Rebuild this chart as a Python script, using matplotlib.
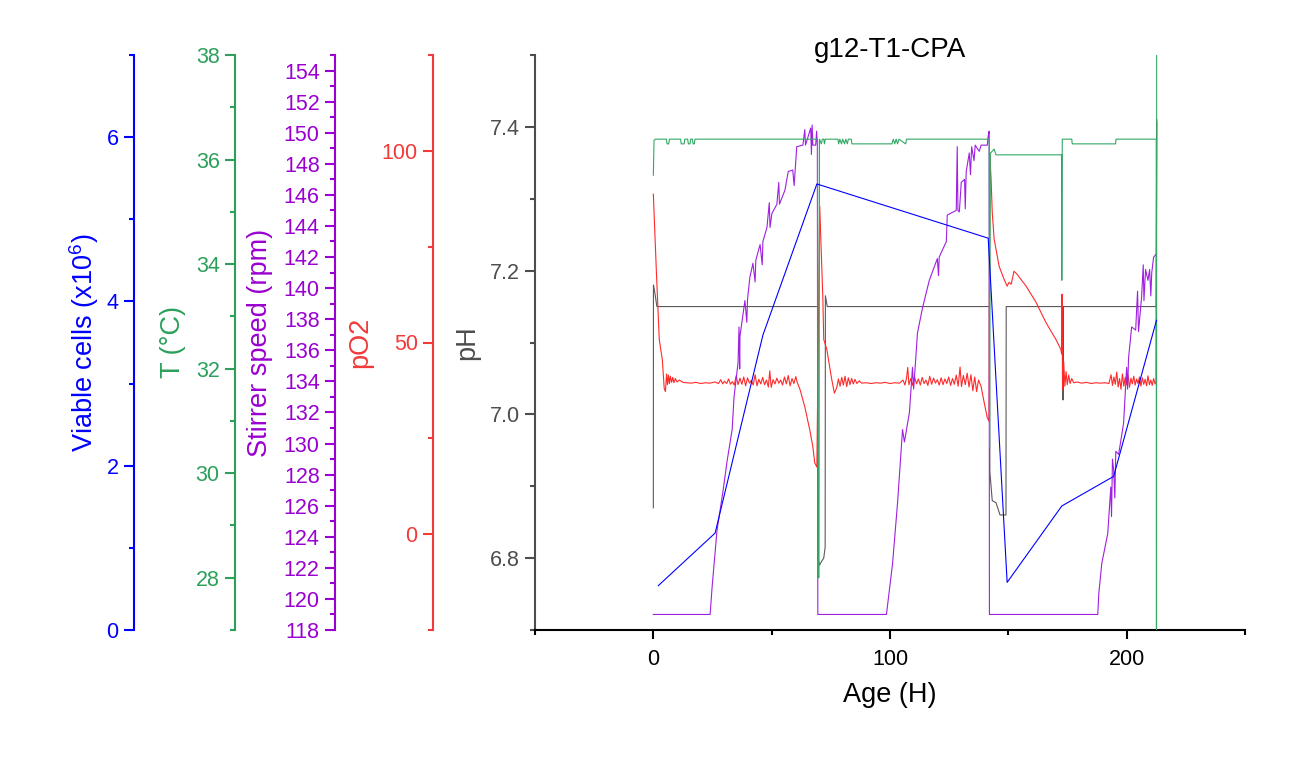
import matplotlib
matplotlib.use('Agg')
import matplotlib.pyplot as plt
from matplotlib.ticker import MultipleLocator

plt.rcParams['font.family'] = ['Liberation Sans', 'DejaVu Sans']
plt.rcParams['mathtext.fontset'] = 'custom'
plt.rcParams['mathtext.rm'] = 'Liberation Sans'
plt.rcParams['mathtext.it'] = 'Liberation Sans:italic'

# --- data (Age in hours) ---
ph_t = [0.0, 0.05, 0.6, 1.5, 69.4, 69.6, 70.2, 71.0, 72.0, 72.6, 72.7, 73.5,
        142.0, 142.2, 143.2, 144.8, 146.5, 149.0, 149.1, 172.9, 173.1, 173.3,
        212.5, 212.7]
ph_v = [6.87, 7.18, 7.17, 7.15, 7.15, 6.80, 6.79, 6.795, 6.80, 6.815, 7.165, 7.15,
        7.15, 6.92, 6.88, 6.877, 6.86, 6.86, 7.15, 7.15, 7.02, 7.15,
        7.15, 7.41]

o2_t = [0.0, 1.3, 2.5, 3.8, 4.6, 5.1, 5.6, 6.0, 6.4, 6.8, 7.2, 7.7, 8.2, 8.7, 9.3,
        10.0, 11.0, 12.5, 14.0, 16.0, 18.0, 20.0, 22.0, 24.0, 26.0, 27.5, 28.5,
        29.3, 30.0, 31.0, 31.8, 32.6, 33.4, 34.2, 35.0, 35.8, 36.6, 37.4, 38.2,
        39.0, 39.8, 40.6, 41.4, 42.2, 43.0, 43.8, 44.6, 45.4, 46.2, 47.0, 47.8,
        48.6, 49.2, 49.8, 50.6, 51.4, 52.2, 53.0, 53.8, 54.6, 55.4, 56.2, 57.0,
        57.8, 58.6, 59.4, 60.2, 60.8, 62.0, 64.0, 66.1, 67.4, 68.2, 69.1, 70.3,
        71.6, 72.0, 73.3, 75.4, 76.5, 77.5, 78.2, 78.9, 79.6, 80.3, 81.0, 81.7,
        82.4, 83.1, 83.8, 84.5, 85.2, 86.0, 87.0, 88.0, 90.0, 92.0, 94.0, 96.0,
        98.0, 100.0, 102.0, 104.0, 105.5, 106.3, 107.0, 107.5, 108.0, 108.8,
        109.6, 110.4, 111.2, 112.0, 112.8, 113.6, 114.4, 115.2, 116.0, 116.8,
        117.6, 118.4, 119.2, 120.0, 120.8, 121.6, 122.4, 123.2, 124.0, 124.8,
        125.6, 126.4, 127.2, 128.0, 128.8, 129.6, 130.2, 131.0, 131.8, 132.6,
        133.4, 134.2, 135.0, 135.8, 136.6, 137.4, 138.5, 139.8, 141.1, 141.8,
        142.2, 142.7, 143.2, 144.0, 146.1, 148.2, 149.5, 150.3, 151.2, 152.4,
        153.7, 157.5, 161.7, 165.9, 170.1, 172.2, 172.5, 172.7, 172.9, 173.4,
        173.9, 174.4, 174.9, 175.5, 176.1, 176.8, 177.6, 179.0, 181.0, 183.0,
        185.0, 187.0, 189.0, 191.0, 192.5, 193.4, 194.0, 194.6, 195.2, 195.8,
        196.4, 197.0, 197.6, 198.2, 198.8, 199.4, 200.0, 200.6, 201.2, 201.8,
        202.4, 203.0, 203.6, 204.2, 204.8, 205.4, 206.0, 206.6, 207.2, 207.8,
        208.4, 209.0, 209.6, 210.2, 210.8, 211.4, 212.0, 212.4, 212.7]
o2_v = [88.7, 68.3, 50.8, 45.5, 38.0, 37.2, 41.8, 39.0, 41.5, 39.3, 41.2, 39.6,
        40.9, 39.5, 40.6, 39.7, 40.2, 39.6, 39.5, 39.4, 39.6, 39.3, 39.5, 39.4,
        39.7, 39.3, 40.3, 39.2, 39.9, 39.3, 40.5, 39.1, 39.8, 38.9, 41.3, 39.0,
        40.7, 39.1, 41.0, 38.7, 40.8, 39.4, 40.1, 38.9, 41.6, 38.7, 40.4, 39.2,
        40.9, 39.0, 40.2, 38.4, 42.6, 38.3, 40.3, 39.2, 40.7, 39.4, 40.2, 38.9,
        41.0, 39.2, 41.4, 38.7, 40.6, 39.3, 41.1, 39.6, 37.7, 33.2, 27.2, 22.8,
        18.6, 17.5, 85.6, 62.0, 50.8, 48.2, 40.3, 36.8, 38.2, 40.5, 38.6, 40.9,
        38.9, 41.2, 38.5, 40.8, 39.0, 40.6, 39.2, 40.4, 39.3, 40.0, 39.4, 39.5,
        39.3, 39.5, 39.4, 39.6, 39.3, 39.5, 39.4, 40.2, 38.9, 40.8, 43.5, 39.0,
        40.6, 38.8, 41.0, 39.2, 40.5, 38.9, 40.9, 39.3, 40.2, 38.8, 41.2, 39.1,
        40.7, 39.4, 40.3, 38.9, 40.8, 39.0, 40.5, 39.3, 41.0, 38.8, 40.6, 39.1,
        41.5, 38.6, 43.6, 38.5, 41.4, 39.0, 42.0, 38.4, 41.6, 37.4, 41.0, 37.2,
        40.2, 38.5, 34.3, 30.4, 29.5, 98.7, 92.7, 84.0, 77.0, 69.9, 66.5, 64.7,
        65.7, 65.2, 68.6, 67.8, 64.7, 60.5, 55.2, 50.8, 48.2, 47.0, 62.6, 37.7,
        45.0, 38.6, 42.4, 39.0, 41.5, 39.3, 40.6, 39.5, 39.7, 39.4, 39.6, 39.3,
        39.5, 39.4, 39.5, 39.3, 41.6, 38.8, 41.0, 39.1, 42.3, 38.4, 40.6, 37.8,
        41.8, 38.6, 40.9, 39.0, 41.5, 38.3, 40.7, 39.2, 41.2, 38.9, 40.5, 39.3,
        41.0, 38.6, 40.8, 39.1, 40.4, 38.7, 41.3, 39.0, 40.2, 38.8, 40.6, 39.2,
        39.8, 107.6]

rpm_t = [0.0, 24.0, 24.8, 25.7, 26.9, 29.5, 31.2, 33.3, 34.1, 35.8, 36.2, 36.5,
         36.6, 38.7, 39.5, 39.8, 40.8, 42.1, 43.0, 43.3, 45.1, 46.0, 46.3, 48.0,
         49.0, 49.3, 50.1, 52.2, 53.0, 53.3, 55.6, 57.0, 58.9, 59.5, 60.6, 63.2,
         64.0, 64.3, 66.5, 66.8, 67.1, 67.4, 68.6, 69.0, 69.3, 69.5,
         98.5, 101.1, 103.2, 105.3, 106.1, 108.2, 109.5, 110.0, 111.6, 113.7,
         116.6, 120.0, 120.5, 120.8, 123.8, 124.2, 128.0, 128.4, 128.7, 129.3,
         130.1, 131.5, 131.8, 132.2, 133.5, 134.0, 134.5, 135.5, 136.0, 137.7,
         138.5, 140.0, 141.1, 141.5, 141.9, 142.0,
         187.8, 188.2, 189.5, 192.0, 193.3, 193.6, 194.0, 194.5, 195.0, 195.4,
         196.6, 198.7, 200.0, 200.4, 200.8, 202.1, 203.8, 204.6, 205.0, 206.3,
         207.0, 207.3, 208.0, 209.0, 209.7, 210.2, 210.6, 211.4, 212.6]
rpm_v = [119.0, 119.0, 120.7, 122.3, 124.4, 127.0, 128.9, 130.9, 133.0, 135.2, 137.5, 134.8,
         136.9, 139.2, 137.8, 139.3, 140.7, 141.6, 140.4, 141.8, 142.8, 141.5, 143.0, 143.9,
         145.5, 143.9, 144.8, 145.4, 146.8, 145.4, 146.3, 147.5, 147.6, 146.6, 149.1, 149.2,
         150.2, 149.2, 150.3, 148.6, 150.5, 149.2, 149.2, 150.1, 149.2, 119.0,
         119.0, 122.3, 126.2, 130.9, 130.1, 132.0, 134.9, 133.5, 137.1, 138.7,
         140.5, 141.9, 140.8, 142.0, 143.0, 144.7, 145.0, 149.1, 145.0, 144.9,
         146.8, 147.0, 145.1, 147.5, 148.7, 147.3, 149.1, 148.2, 149.2, 148.8,
         149.2, 149.2, 149.2, 149.8, 150.1, 119.0,
         119.0, 120.3, 122.3, 124.2, 127.2, 125.3, 129.0, 128.3, 126.5, 129.5,
         129.3, 131.3, 134.9, 133.5, 135.5, 137.5, 137.3, 139.8, 137.2, 139.4,
         141.5, 139.2, 141.2, 140.5, 141.2, 139.5, 141.0, 142.0, 142.2]

temp_t = [0.0, 0.3, 1.0, 5.5, 5.8, 6.5, 6.8, 11.5, 11.8, 13.0, 13.3, 14.5, 14.8,
          15.5, 15.8, 16.5, 16.8, 17.3, 17.6, 69.4, 69.6, 70.0, 70.2, 71.0, 71.4,
          72.0, 72.3, 72.6, 78.0, 78.3, 78.8, 79.5, 80.0, 80.8, 81.3, 82.0, 82.4,
          83.6, 83.9, 100.8, 101.4, 102.0, 102.6, 103.2, 103.8, 106.6, 107.0,
          141.9, 142.1, 142.4, 144.0, 144.8, 172.5, 172.6, 172.8, 176.8, 177.0,
          195.3, 195.5, 212.5, 212.6, 212.7]
temp_v = [35.70, 36.37, 36.39, 36.39, 36.30, 36.30, 36.39, 36.39, 36.30, 36.30, 36.39, 36.39, 36.30,
          36.30, 36.39, 36.39, 36.30, 36.30, 36.39, 36.39, 28.0, 28.0, 36.39, 36.30, 36.39,
          36.39, 36.30, 36.39, 36.39, 36.30, 36.39, 36.30, 36.39, 36.30, 36.39, 36.30, 36.39,
          36.39, 36.30, 36.30, 36.39, 36.30, 36.39, 36.30, 36.39, 36.30, 36.39,
          36.39, 30.5, 36.12, 36.20, 36.09, 36.09, 33.69, 36.39, 36.39, 36.30,
          36.30, 36.39, 36.39, 20.0, 45.0]

cells_t = [2.1, 26.1, 46.3, 69.1, 141.5, 149.5, 172.6, 194.5, 212.6]
cells_v = [0.54, 1.18, 3.59, 5.43, 4.77, 0.58, 1.51, 1.87, 3.77]

C_PH = '#4D4D4D'
C_O2 = '#F23A3A'
C_RPM = '#9A00D0'
C_T = '#2CA05A'
C_CELL = '#0000FF'

TICK_FS = 15.5
LABEL_FS = 19.5

W, H = 1307, 757
fig = plt.figure(figsize=(W / 100, H / 100), dpi=100)
left, right, bottom, top = 535, 1245, 630, 55
ax = fig.add_axes([left / W, 1 - bottom / H, (right - left) / W, (bottom - top) / H])
aw = right - left


def style_axis(a, color, spine_x, label, label_x, ylim, major, minor, fmt=None, keep_bottom=False):
    for s in ['top', 'right', 'bottom']:
        if s == 'bottom' and keep_bottom:
            continue
        a.spines[s].set_visible(False)
    a.spines['left'].set_visible(True)
    a.spines['left'].set_position(('axes', (spine_x - left) / aw))
    a.spines['left'].set_color(color)
    a.spines['left'].set_linewidth(1.5)
    a.yaxis.set_ticks_position('left')
    a.yaxis.set_label_position('left')
    a.set_ylim(*ylim)
    a.yaxis.set_major_locator(MultipleLocator(major))
    a.yaxis.set_minor_locator(MultipleLocator(minor))
    if fmt:
        a.yaxis.set_major_formatter(fmt)
    a.tick_params(axis='y', which='major', direction='out', length=7, width=1.5,
                  colors=color, labelsize=TICK_FS, pad=4)
    a.tick_params(axis='y', which='minor', direction='out', length=3.5, width=1.5,
                  colors=color)
    a.set_ylabel(label, color=color, fontsize=LABEL_FS)
    a.yaxis.set_label_coords((label_x - left) / aw, 0.5)
    a.yaxis.label.set_va('center')


# pH on the host axes
ax.plot(ph_t, ph_v, color='#5A5A5A', lw=0.8)
ax.set_xlim(-50, 250)
ax.xaxis.set_major_locator(MultipleLocator(100))
ax.xaxis.set_minor_locator(MultipleLocator(50))
style_axis(ax, C_PH, 535, 'pH', 467, (6.7, 7.5), 0.2, 0.1, '{x:.1f}', keep_bottom=True)
ax.spines['bottom'].set_linewidth(1.5)
ax.spines['bottom'].set_color('black')
ax.tick_params(axis='x', which='major', direction='out', length=6.5, width=1.5,
               labelsize=TICK_FS, pad=7)
ax.tick_params(axis='x', which='minor', direction='out', length=3.5, width=1.5)
ax.set_xlabel('Age (H)', fontsize=LABEL_FS, labelpad=9)

ax_o2 = ax.twinx()
ax_o2.plot(o2_t, o2_v, color='#FF2A2A', lw=0.8)
style_axis(ax_o2, C_O2, 433, 'pO2', 360, (-25, 125), 50, 25)

ax_rpm = ax.twinx()
ax_rpm.plot(rpm_t, rpm_v, color='#A020E0', lw=0.8)
style_axis(ax_rpm, C_RPM, 335, 'Stirrer speed (rpm)', 260, (118, 155), 2, 1)

ax_t = ax.twinx()
ax_t.plot(temp_t, temp_v, color='#33A865', lw=0.8)
style_axis(ax_t, C_T, 235, 'T (°C)', 173, (27, 38), 2, 1)

ax_c = ax.twinx()
ax_c.plot(cells_t, cells_v, color=C_CELL, lw=0.8)
style_axis(ax_c, C_CELL, 134, 'Viable cells (x10$^{6}$)', 84, (0, 7), 2, 1)

ax.text(0.5, (bottom - 57) / (bottom - top), 'g12-T1-CPA', transform=ax.transAxes,
        ha='center', va='baseline', fontsize=20, color='black')

fig.savefig('out.png', dpi=100)
